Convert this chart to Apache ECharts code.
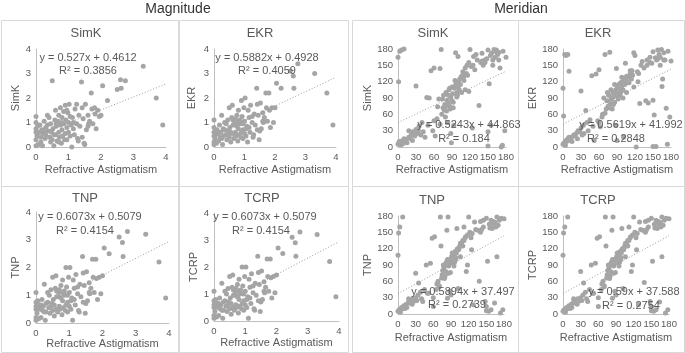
<!DOCTYPE html>
<html>
<head>
<meta charset="utf-8">
<script src="https://cdn.jsdelivr.net/npm/echarts@6/dist/echarts.min.js"></script>
<style>
  html, body { margin: 0; padding: 0; background: #fff; }
  #chart { width: 685px; height: 353px; }
</style>
</head>
<body>
<div id="chart"></div>
<script>
// Refractive astigmatism magnitude (shared x of the four left panels)
var magX = [
  0, 0, 0, 0, 0, 0, 0.03, 0.05, 0.08, 0.1,
  0.12, 0.15, 0.18, 0.2, 0.22, 0.25, 0.28, 0.3, 0.3, 0.35,
  0.38, 0.4, 0.42, 0.45, 0.48, 0.5, 0.5, 0.52, 0.55, 0.58,
  0.6, 0.6, 0.62, 0.65, 0.68, 0.7, 0.7, 0.72, 0.75, 0.75,
  0.78, 0.8, 0.8, 0.82, 0.85, 0.85, 0.88, 0.9, 0.9, 0.92,
  0.95, 0.95, 0.98, 1.0, 1.0, 1.02, 1.05, 1.08, 1.1, 1.12,
  1.15, 1.18, 1.2, 1.25, 1.28, 1.3, 1.32, 1.35, 1.4, 1.42,
  1.45, 1.48, 1.5, 1.52, 1.55, 1.6, 1.62, 1.65, 1.7, 1.72,
  1.75, 1.8, 1.82, 1.85, 1.9, 1.95, 2.0, 2.05, 2.2, 2.5,
  2.6, 2.62, 2.75, 3.3, 3.7, 3.9, 0.55, 0.62, 1.15, 1.42,
  0.15, 0.25, 0.35, 0.45, 0.7, 0.8, 1.05, 1.25, 1.6, 0.95
];
var simkMag = [
  0.05, 0.3, 0.6, 0.75, 1.0, 1.25, 0.45, 0.85, 0.1, 0.6,
  0.9, 0.2, 0.7, 0.05, 0.55, 1.05, 0.35, 0.8, 0.5, 1.3,
  0.65, 1.2, 0.4, 0.95, 0.6, 0.3, 2.7, 0.75, 0.05, 1.1,
  0.5, 1.5, 0.85, 0.25, 1.05, 0.6, 1.3, 0.4, 0.9, 1.6,
  0.15, 1.2, 0.7, 0.45, 1.45, 0.95, 0.3, 1.7, 0.55, 1.1,
  0.8, 0.3, 1.4, 1.0, 0.6, 1.75, 0.45, 0.9, 0.0, 1.2,
  0.75, 0.5, 1.55, 0.95, 0.35, 0.25, 1.3, 0.85, 2.65, 1.6,
  1.15, 0.15, 0.1, 1.75, 0.7, 1.3, 0.95, 1.05, 2.2, 1.55,
  0.95, 1.6, 1.35, 0.75, 1.5, 1.25, 1.3, 2.5, 1.9, 2.35,
  2.75, 2.4, 2.7, 3.3, 2.0, 0.9, 0.5, 0.95, 1.0, 0.4,
  0.4, 0.65, 0.9, 0.2, 0.2, 1.0, 1.25, 1.75, 0.85, 1.5
];
var ekrMag = [
  0.1, 0.45, 0.8, 1.1, 0.2, 0.6, 0.35, 0.5, 0.15, 0.7,
  0.55, 0.25, 0.9, 0.4, 0.6, 1.3, 0.1, 0.75, 0.45, 1.0,
  0.5, 0.95, 0.3, 1.1, 0.65, 0.4, 1.6, 0.8, 0.2, 1.2,
  0.55, 1.7, 0.9, 0.35, 1.0, 0.6, 1.15, 0.45, 0.85, 1.3,
  0.25, 1.5, 0.75, 0.5, 1.1, 0.95, 0.4, 1.9, 0.6, 1.25,
  0.7, 0.35, 1.6, 1.05, 0.55, 2.0, 0.45, 0.85, 0.2, 1.5,
  0.8, 0.6, 1.7, 1.0, 0.4, 0.5, 1.35, 0.9, 2.4, 1.75,
  1.3, 0.3, 0.65, 1.8, 0.75, 1.4, 1.0, 1.2, 2.2, 1.6,
  1.05, 2.2, 1.5, 0.8, 1.6, 1.0, 1.6, 2.6, 2.4, 3.1,
  2.9, 2.4, 3.4, 3.0, 2.2, 0.9, 0.6, 1.1, 1.2, 0.7,
  0.6, 0.35, 0.7, 0.55, 0.9, 1.05, 0.75, 1.25, 1.05, 0.95
];
var tnpMag = [
  0.1, 0.5, 0.75, 1.1, 0.2, 0.6, 0.35, 0.8, 0.15, 0.65,
  0.5, 0.2, 0.85, 0.45, 0.6, 1.4, 0.1, 0.7, 0.4, 1.1,
  0.55, 1.0, 0.35, 1.2, 0.7, 0.45, 1.65, 0.85, 0.25, 1.25,
  0.5, 1.7, 0.95, 0.4, 1.1, 0.6, 1.2, 0.5, 0.9, 1.35,
  0.3, 1.55, 0.8, 0.55, 1.15, 1.0, 0.45, 2.0, 0.65, 1.3,
  0.75, 0.4, 1.65, 1.1, 0.6, 2.0, 0.5, 0.9, 0.1, 1.55,
  0.85, 0.65, 1.75, 1.05, 0.45, 0.4, 1.4, 0.95, 2.4, 1.8,
  1.35, 0.35, 0.7, 1.85, 0.8, 1.45, 1.05, 1.25, 2.3, 1.65,
  1.1, 2.3, 1.6, 0.85, 1.65, 1.05, 1.7, 2.7, 2.5, 3.1,
  2.9, 2.4, 3.3, 3.2, 2.2, 0.9, 0.65, 1.15, 1.25, 0.75,
  0.65, 0.4, 0.75, 0.6, 0.95, 1.1, 0.8, 1.3, 1.1, 1.0
];
var tcrpMag = tnpMag.slice();

// Refractive astigmatism meridian (shared x of the four right panels)
var merX = [
  0, 0, 1, 2, 3, 4, 5, 6, 8, 10,
  12, 14, 15, 18, 20, 22, 24, 25, 28, 30,
  30, 32, 34, 35, 38, 40, 42, 45, 48, 50,
  52, 55, 58, 60, 62, 65, 66, 68, 70, 72,
  73, 75, 76, 78, 79, 80, 81, 82, 83, 84,
  85, 86, 87, 88, 89, 90, 90, 91, 92, 93,
  94, 95, 96, 97, 98, 99, 100, 101, 102, 103,
  104, 105, 106, 108, 110, 112, 114, 115, 116, 118,
  120, 122, 124, 126, 128, 130, 132, 135, 138, 140,
  142, 145, 148, 150, 152, 154, 155, 156, 158, 160,
  162, 164, 165, 166, 168, 170, 172, 175, 178, 180,
  2, 5, 8, 10, 60, 70, 88, 118, 150, 174,
  74, 77, 80, 84, 86, 92, 95, 98, 100, 106,
  110, 112, 125, 140, 145, 150, 158, 162, 168, 18
];
var simkMer = [
  165, 5, 120, 8, 176, 10, 6, 178, 12, 180,
  10, 14, 8, 18, 16, 22, 12, 28, 20, 112,
  32, 25, 30, 38, 22, 45, 28, 18, 91, 40,
  90, 140, 30, 145, 20, 52, 74, 88, 144, 179,
  60, 72, 95, 78, 55, 100, 66, 86, 45, 80,
  105, 75, 70, 92, 8, 110, 85, 98, 72, 40,
  108, 112, 173, 118, 100, 95, 166, 120, 105, 125,
  115, 128, 130, 138, 122, 145, 135, 150, 132, 155,
  179, 148, 35, 166, 142, 170, 160, 76, 155, 158,
  150, 160, 162, 2, 116, 168, 40, 172, 160, 179,
  165, 178, 175, 170, 174, 145, 0, 176, 30, 165,
  10, 4, 6, 15, 48, 42, 25, 102, 28, 3,
  88, 68, 75, 95, 108, 82, 122, 92, 110, 100,
  130, 105, 150, 172, 155, 178, 150, 176, 160, 30
];
var ekrMer = [
  108, 5, 57, 8, 170, 3, 168, 10, 170, 139,
  12, 18, 10, 20, 22, 25, 15, 30, 28, 103,
  35, 22, 40, 25, 67, 45, 30, 50, 131, 38,
  12, 134, 48, 142, 37, 55, 60, 90, 170, 70,
  85, 75, 95, 174, 80, 88, 90, 70, 100, 92,
  95, 82, 98, 105, 144, 12, 100, 110, 88, 115,
  108, 95, 118, 102, 112, 120, 105, 18, 125, 115,
  154, 122, 130, 118, 128, 135, 125, 140, 132, 173,
  168, 0, 138, 135, 80, 150, 157, 145, 85, 160,
  81, 155, 154, 86, 59, 164, 1, 160, 162, 170,
  165, 179, 111, 125, 173, 160, 71, 176, 55, 158,
  5, 12, 15, 18, 45, 62, 40, 110, 1, 5,
  100, 72, 105, 78, 115, 92, 110, 128, 90, 100,
  118, 140, 120, 150, 165, 175, 178, 150, 160, 22
];
var tnpMer = [
  108, 5, 149, 8, 160, 3, 10, 12, 178, 15,
  10, 18, 12, 22, 20, 25, 18, 28, 24, 75,
  30, 25, 35, 57, 40, 28, 23, 45, 90, 38,
  38, 93, 139, 14, 142, 45, 55, 60, 50, 178,
  125, 72, 80, 85, 65, 90, 78, 95, 154, 29,
  178, 88, 92, 100, 76, 35, 95, 105, 98, 110,
  102, 108, 95, 115, 104, 112, 157, 120, 47, 118,
  122, 125, 130, 128, 135, 160, 140, 142, 78, 145,
  178, 150, 140, 148, 17, 169, 155, 154, 60, 150,
  155, 160, 23, 14, 97, 5, 165, 158, 8, 157,
  170, 20, 168, 160, 105, 163, 172, 176, 8, 175,
  6, 8, 10, 12, 30, 52, 42, 90, 6, 2,
  66, 90, 70, 100, 75, 112, 88, 100, 118, 105,
  125, 135, 118, 170, 172, 176, 172, 165, 178, 28
];
var tcrpMer = [
  108, 5, 149, 8, 160, 3, 10, 12, 178, 15,
  10, 18, 12, 22, 20, 25, 18, 28, 24, 78,
  30, 25, 35, 57, 40, 28, 23, 45, 90, 38,
  38, 93, 139, 14, 142, 45, 55, 60, 50, 178,
  125, 72, 80, 85, 65, 90, 78, 95, 154, 29,
  178, 88, 92, 100, 76, 35, 95, 105, 98, 110,
  102, 108, 95, 115, 104, 112, 157, 120, 47, 118,
  122, 125, 130, 128, 135, 160, 140, 142, 78, 145,
  178, 150, 140, 148, 17, 169, 155, 154, 58, 150,
  155, 160, 23, 14, 97, 5, 165, 158, 8, 157,
  170, 22, 168, 160, 105, 163, 172, 176, 8, 175,
  6, 8, 10, 12, 30, 52, 42, 90, 6, 2,
  66, 90, 70, 100, 75, 112, 88, 100, 118, 105,
  125, 135, 118, 170, 172, 176, 172, 165, 178, 28
];

// trendline slope / intercept and R²
var fitSlope = [0.527, 0.5882, 0.5243, 0.5619, 0.6073, 0.6073, 0.5894, 0.59];
var fitIntercept = [0.4612, 0.4928, 44.863, 41.992, 0.5079, 0.5079, 37.497, 37.588];
var fitR2 = ['0.3856', '0.4059', '0.184', '0.2848', '0.4154', '0.4154', '0.2739', '0.2754'];
var panelNames = ['SimK', 'EKR', 'SimK', 'EKR', 'TNP', 'TCRP', 'TNP', 'TCRP'];
var groupNames = ['Magnitude', 'Meridian'];

var panelX = [magX, magX, merX, merX, magX, magX, merX, merX];
var panelY = [simkMag, ekrMag, simkMer, ekrMer, tnpMag, tcrpMag, tnpMer, tcrpMer];

// layout per panel
var layout = [
  { grid: [36, 49, 130, 98], box: [1, 20, 177, 166], title: [86, 33], eq: [88, 58, 88, 71], xGap: 17, yGap: 10 },
  { grid: [214, 49, 122, 98], box: [179, 20, 169, 166], title: [260, 33], eq: [267, 58, 267, 71], xGap: 17, yGap: 17 },
  { grid: [398, 49, 108, 98], box: [352, 20, 166, 166], title: [433, 33], eq: [469, 125, 464, 139], xGap: 17, yGap: 25 },
  { grid: [563, 49, 108, 98], box: [518, 20, 166, 166], title: [598, 33], eq: [631, 125, 616, 139], xGap: 17, yGap: 25 },
  { grid: [36, 212, 133, 111], box: [1, 186, 177, 166], title: [85, 198], eq: [90, 217, 85, 231], xGap: 15, yGap: 12 },
  { grid: [214, 213, 125, 108], box: [179, 186, 169, 166], title: [262, 198], eq: [265, 217, 261, 231], xGap: 16, yGap: 15 },
  { grid: [398, 216, 106, 98], box: [352, 186, 166, 166], title: [432, 200], eq: [463, 292, 457, 305], xGap: 18, yGap: 25 },
  { grid: [563, 216, 106, 98], box: [518, 186, 166, 166], title: [598, 200], eq: [634, 292, 631, 306], xGap: 18, yGap: 24 }
];

var FONT = 'Liberation Sans';
var textColor = '#595959';
var dotColor = '#a5a5a5';

var grids = [], xAxes = [], yAxes = [], series = [], graphics = [];

for (var i = 0; i < 8; i++) {
  var L = layout[i];
  var isMer = (i % 4) >= 2;
  var max = isMer ? 180 : 4;
  var step = isMer ? 30 : 1;

  grids.push({ left: L.grid[0], top: L.grid[1], width: L.grid[2], height: L.grid[3] });

  xAxes.push({
    gridIndex: i, type: 'value', min: 0, max: max, interval: step,
    name: 'Refractive Astigmatism', nameLocation: 'middle', nameGap: L.xGap,
    nameTextStyle: { color: textColor, fontSize: 11, fontFamily: FONT },
    axisLine: { show: true, lineStyle: { color: '#bfbfbf' } },
    axisTick: { show: false },
    splitLine: { show: false },
    axisLabel: { color: textColor, fontSize: 9.5, fontFamily: FONT, margin: 5, hideOverlap: false }
  });
  yAxes.push({
    gridIndex: i, type: 'value', min: 0, max: max, interval: step,
    name: panelNames[i], nameLocation: 'middle', nameGap: L.yGap,
    nameTextStyle: { color: textColor, fontSize: 11, fontFamily: FONT },
    axisLine: { show: true, lineStyle: { color: '#bfbfbf' } },
    axisTick: { show: false },
    splitLine: { show: false },
    axisLabel: { color: textColor, fontSize: 9.5, fontFamily: FONT, margin: 5 }
  });

  var pts = panelX[i].map(function (x, k) { return [x, panelY[i][k]]; });
  series.push({
    type: 'scatter', xAxisIndex: i, yAxisIndex: i,
    symbolSize: 5, itemStyle: { color: dotColor, opacity: 1 },
    data: pts, silent: true
  });
  series.push({
    type: 'line', xAxisIndex: i, yAxisIndex: i,
    symbol: 'none', silent: true, z: 3,
    lineStyle: { color: '#9a9a9a', width: 1, type: [1, 2] },
    data: [[0, fitIntercept[i]], [max, fitSlope[i] * max + fitIntercept[i]]]
  });

  graphics.push({
    type: 'rect', silent: true, z: -1,
    shape: { x: L.box[0] + 0.5, y: L.box[1] + 0.5, width: L.box[2], height: L.box[3] },
    style: { fill: null, stroke: '#d9d9d9', lineWidth: 1 }
  });
  graphics.push({
    type: 'text', x: L.title[0], y: L.title[1],
    style: { text: panelNames[i], fill: textColor, font: '13px ' + FONT, textAlign: 'center', textVerticalAlign: 'middle' }
  });
  graphics.push({
    type: 'text', x: L.eq[0], y: L.eq[1], z: 10,
    style: { text: 'y = ' + fitSlope[i] + 'x + ' + fitIntercept[i], fill: textColor, font: '11px ' + FONT, textAlign: 'center', textVerticalAlign: 'middle' }
  });
  graphics.push({
    type: 'text', x: L.eq[2], y: L.eq[3], z: 10,
    style: { text: 'R² = ' + fitR2[i], fill: textColor, font: '11px ' + FONT, textAlign: 'center', textVerticalAlign: 'middle' }
  });
}

graphics.push({
  type: 'text', x: 178, y: 9,
  style: { text: groupNames[0], fill: '#333', font: '14px ' + FONT, textAlign: 'center', textVerticalAlign: 'middle' }
});
graphics.push({
  type: 'text', x: 521, y: 9,
  style: { text: groupNames[1], fill: '#333', font: '14px ' + FONT, textAlign: 'center', textVerticalAlign: 'middle' }
});

var chart = echarts.init(document.getElementById('chart'));
chart.setOption({
  animation: false,
  backgroundColor: '#fff',
  grid: grids,
  xAxis: xAxes,
  yAxis: yAxes,
  series: series,
  graphic: graphics
});
</script>
</body>
</html>
